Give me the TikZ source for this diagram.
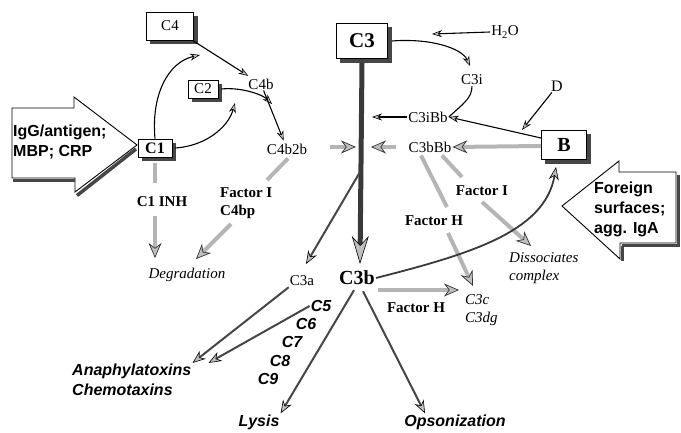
\documentclass[tikz,border=0pt]{standalone}
\usepackage{fontspec}
\setmainfont{Liberation Serif}
\newfontfamily\arialf{Liberation Sans}
\usetikzlibrary{arrows.meta}
\definecolor{shadowgray}{RGB}{70,70,70}
\tikzset{
 cbox/.style={draw=black,line width=0.8pt,fill=white,inner sep=0pt},
 shadowline/.style={draw=shadowgray,line width=3.5pt,line cap=butt},
 lbl/.style={font=\fontsize{15}{18}\selectfont,inner sep=1pt},
 blbl/.style={font=\fontsize{15}{18}\selectfont\bfseries,inner sep=1pt,align=left},
 ilbl/.style={font=\fontsize{15}{18}\selectfont\itshape,inner sep=1pt,align=left},
 sbi/.style={font=\arialf\fontsize{16}{20}\selectfont\bfseries\itshape,inner sep=1pt,align=left},
 sb/.style={font=\arialf\fontsize{16}{20}\selectfont\bfseries,inner sep=1pt,align=left},
 arr/.style={draw=black,line width=1.1pt,-{Stealth[length=10pt,width=7pt,fill=gray!45,color=black,line width=0.6pt]}},
 fat/.style={draw=gray!58,line width=4pt,-{Stealth[length=15pt,width=13pt,fill=gray!50,color=gray!40!black,line width=0.7pt]}},
 fatseg/.style={draw=gray!58,line width=4pt},
 mid/.style={draw=gray!55!black,line width=2pt,-{Stealth[length=13pt,width=10pt,fill=gray!50,color=black,line width=0.6pt]}},
 bigarrow/.style={draw=black,line width=0.9pt,fill=white},
}
\begin{document}
\begin{tikzpicture}[x=1pt,y=-1pt]
\useasboundingbox (0,0) rectangle (681,433);

% big input arrows
\draw[bigarrow]
  (12,108) -- (74,108) -- (74,97) -- (137,145) -- (75,192) -- (75,178) -- (12,178) -- cycle;
\draw[shadowline] (13,180.5) -- (75,180.5);
\draw[shadowline] (136,149) -- (77,195.5);
\node[sb,anchor=west] (igg) at (12,142) {IgG/antigen;\\MBP; CRP};
\draw[bigarrow]
  (676,172) -- (619,172) -- (619,161) -- (562,206) -- (620,259) -- (620,243) -- (676,243) -- cycle;
\draw[shadowline] (678.5,175) -- (678.5,245.5) -- (622,245.5);
\draw[shadowline] (622.5,246) -- (622.5,261);
\node[sb,anchor=west] (foreign) at (593,209) {Foreign\\surfaces;\\agg. IgA};

% boxes
\node[cbox,minimum width=47pt,minimum height=28pt,font=\fontsize{15}{18}\selectfont] (C4) at (170,26) {C4};
\node[cbox,minimum width=30pt,minimum height=18pt,font=\fontsize{15}{18}\selectfont] (C2) at (203,89) {C2};
\node[cbox,minimum width=34pt,minimum height=18pt,font=\fontsize{16}{18}\selectfont\bfseries] (C1) at (155,148) {C1};
\node[cbox,minimum width=51pt,minimum height=35pt,font=\fontsize{21}{24}\selectfont\bfseries] (C3) at (362,41) {C3};
\node[cbox,minimum width=45pt,minimum height=29pt,font=\fontsize{20}{24}\selectfont\bfseries] (B) at (564,145) {B};

% box shadows, drawn on top along the right and bottom edges
\foreach \n in {C4,C2,C1,C3,B}{
  \draw[shadowline] ([shift={(2.2,4)}]\n.north east) -- ([shift={(2.2,2.2)}]\n.south east) -- ([shift={(4,2.2)}]\n.south west);
}

% labels
\node[lbl] (C4b) at (261,84) {C4b};
\node[lbl] (C4b2b) at (287,149) {C4b2b};
\node[blbl] (C1INH) at (162,202) {C1 INH};
\node[blbl,anchor=west] (FIl) at (219,203) {Factor I\\C4bp};
\node[ilbl] (degr) at (187,275) {Degradation};
\node[lbl] (C3iBb) at (428,117) {C3iBb};
\node[lbl] (C3bBb) at (430,147) {C3bBb};
\node[lbl] (C3i) at (472,80) {C3i};
\node[lbl] (H2O) at (505,32) {H\textsubscript{2}O};
\node[lbl,font=\fontsize{16}{18}\selectfont] (D) at (557,86) {D};
\node[blbl] (FIr) at (482,191) {Factor I};
\node[blbl] (FHu) at (434,221) {Factor H};
\node[blbl] (FHl) at (416,308) {Factor H};
\node[ilbl,anchor=west] (C3c) at (464,310) {C3c\\C3dg};
\node[ilbl,anchor=west] (diss) at (508,268) {Dissociates\\complex};
\node[lbl] (C3a) at (302,281) {C3a};
\node[blbl,font=\fontsize{20}{24}\selectfont\bfseries] (C3b) at (357,278) {C3b};
\node[sbi] (C5) at (321,306) {C5};
\node[sbi] (C6) at (306,324) {C6};
\node[sbi] (C7) at (292,342) {C7};
\node[sbi] (C8) at (280,361) {C8};
\node[sbi] (C9) at (268,379) {C9};
\node[sbi,anchor=west] (ana) at (71,380) {Anaphylatoxins\\Chemotaxins};
\node[sbi] (lysis) at (259,422) {Lysis};
\node[sbi] (opso) at (455,422) {Opsonization};

% free ends
\coordinate (c4in) at (200,55);
\coordinate (c2in) at (235,103);
\coordinate (inhA) at (155,183);
\coordinate (inhB) at (155,216);
\coordinate (inhC) at (155,258);
\coordinate (fiA) at (267,180);
\coordinate (fiB) at (231,224);
\coordinate (fiC) at (196,259);
\coordinate (c3bin) at (360,264);
\coordinate (branch) at (360,172);
\coordinate (c3ain) at (306,264);
\coordinate (lA) at (330,147);
\coordinate (lB) at (356,147);
\coordinate (rA) at (396,147);
\coordinate (rB) at (371,147);
\coordinate (iA) at (372,117);
\coordinate (h2oA) at (432,34);
\coordinate (c3iin) at (470,66);
\coordinate (dA) at (522,130);
\coordinate (frA) at (462,177);
\coordinate (frB) at (482,202);
\coordinate (frC) at (531,246);
\coordinate (fhA) at (447,207);
\coordinate (fhB) at (448,233);
\coordinate (fhC) at (473,286);
\coordinate (bin) at (556,167);
\coordinate (c3cin) at (459,290);

% classical pathway
\draw[arr] (C1.north) .. controls (151,95) and (168,62) .. (c4in);
\draw[arr] (C1.east) ++(3,0) .. controls (205,146) and (228,128) .. (c2in);
\draw[arr,shorten >=3pt] (C4) -- (C4b);
\draw[arr] (C2.east) ++(3,0) .. controls (240,87) and (262,94) .. (272,104);
\draw[arr,shorten >=2pt] (C4b) -- (C4b2b);
\draw[fatseg] (C1.south) ++(0,6) -- (inhA);
\draw[fat] (inhB) -- (inhC);
\draw[fatseg] (C4b2b.south) ++(1,3) -- (fiA);
\draw[fat] (fiB) -- (fiC);

% C3 trunk
\draw[draw=gray!45!black,line width=5pt,-{Stealth[length=28pt,width=17pt,fill=gray!50,color=black,line width=0.6pt]}] (C3.south) ++(0,4) -- (c3bin);
\draw[mid] (branch) -- (c3ain);
\draw[fat] (lA) -- (lB);
\draw[fat] (rA) -- (rB);

% alternative pathway
\draw[arr] (C3iBb.west) -- (iA);
\draw[arr] (H2O.west) -- (h2oA);
\draw[arr] (C3.east) ++(4,0) .. controls (430,38) and (462,48) .. (c3iin);
\draw[line width=1.1pt] (C3i.south) .. controls (472,98) and (463,104) .. (C3iBb.east);
\draw[arr] (D) -- (dA);
\draw[arr] (B.west) ++(0,-7) -- (C3iBb.east);
\draw[fat] (B.west) ++(0,1) -- (C3bBb.east);
\draw[fatseg] (C3bBb.south) ++(12,2) -- (frA);
\draw[fat] (frB) -- (frC);
\draw[fatseg] (C3bBb.south) ++(-9,2) -- (fhA);
\draw[fat] (fhB) -- (fhC);
\draw[draw=gray!45!black,line width=1.8pt,-{Stealth[length=13pt,width=10pt,fill=gray!50,color=black,line width=0.6pt]}]
  (C3b.east) .. controls (470,254) and (545,232) .. (bin);
\draw[fat] (C3b.east) ++(2,12) -- (c3cin);

% effector arrows
\draw[mid] (C3a.south west) -- (ana.north east);
\draw[mid] (C5.west) -- ([xshift=16pt]ana.north east);
\draw[mid] (C3b.south) ++(-3,4) -- (lysis.north east);
\draw[mid] (C3b.south) ++(6,5) -- ([xshift=-30pt]opso.north);
\end{tikzpicture}
\end{document}
